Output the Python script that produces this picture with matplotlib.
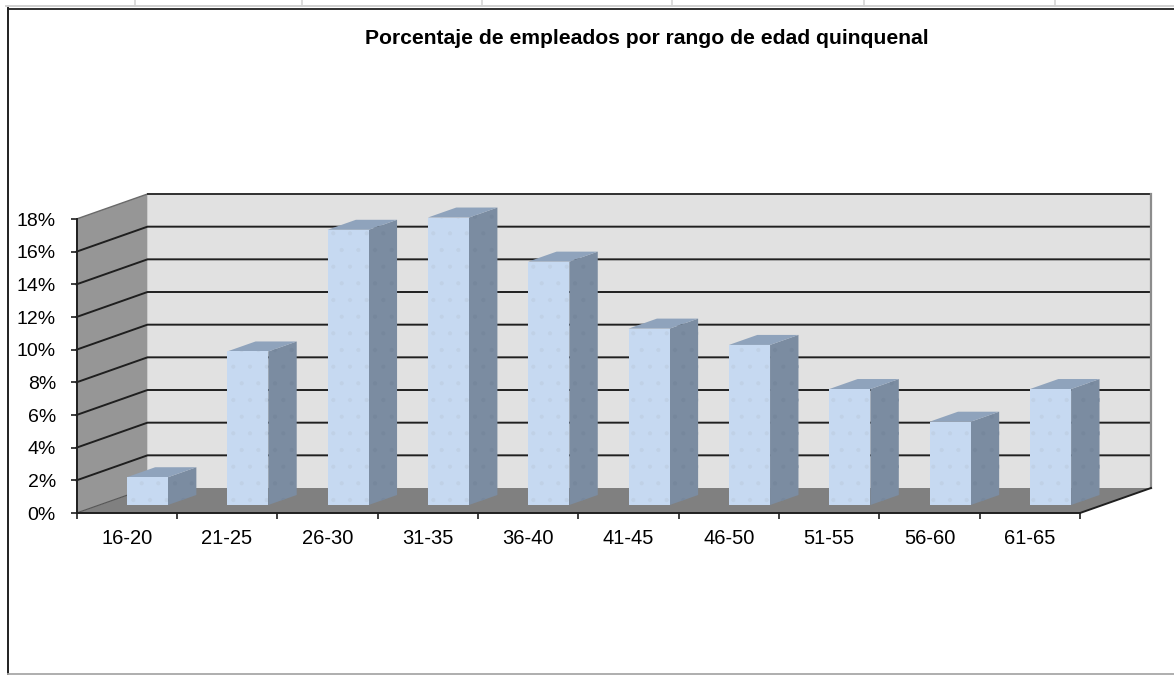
import matplotlib
matplotlib.use("Agg")
import matplotlib.pyplot as plt
from matplotlib.patches import Polygon

W, H = 1174, 675

categories = ["16-20", "21-25", "26-30", "31-35", "36-40", "41-45", "46-50", "51-55", "56-60", "61-65"]
values = [1.7, 9.4, 16.85, 17.6, 14.9, 10.8, 9.8, 7.1, 5.1, 7.1]
yticks = [0, 2, 4, 6, 8, 10, 12, 14, 16, 18]
title = "Porcentaje de empleados por rango de edad quinquenal"

plt.rcParams["font.family"] = ["Liberation Sans", "DejaVu Sans"]
plt.rcParams["hatch.linewidth"] = 0.5

fig = plt.figure(figsize=(W / 100, H / 100), dpi=100)

# chart frame + the sheet cells showing above it
bg = fig.add_axes([0, 0, 1, 1])
bg.set_xlim(0, W)
bg.set_ylim(H, 0)
bg.axis("off")
for x in [135, 302, 482, 672, 864, 1055]:
    bg.plot([x, x], [0, 6], color="#d4d4d4", lw=1.2)
bg.plot([6, W + 5], [5.7, 5.7], color="#d0d0d0", lw=1.4)
bg.plot([8, W + 5], [8.5, 8.5], color="#202020", lw=1.3)
bg.plot([8, 8], [8, H], color="#202020", lw=1.4)
bg.plot([8, W + 5], [H - 1, H - 1], color="#a8a8a8", lw=1.3)
bg.text(647, 39, title, fontsize=15.25, fontweight="bold", ha="center", va="center", color="black")

# axes = front plane of the 3d box
left, right, top, bottom = 76.5, 1080, 219, 513
ax = fig.add_axes([left / W, 1 - bottom / H, (right - left) / W, (bottom - top) / H])
ax.set_xlim(0, len(categories))
ax.set_ylim(0, 18)
ax.patch.set_visible(False)

# depth of the box, in data units
depth_x = 71 / (right - left) * len(categories)
depth_y = 25 / (bottom - top) * 18


def pt(x, y, d=0.0):
    return (x + d * depth_x, y + d * depth_y)


n = len(categories)
ax.add_patch(Polygon([pt(0, 0, 1), pt(n, 0, 1), pt(n, 18, 1), pt(0, 18, 1)], fc="#e1e1e1", ec="none", zorder=1, clip_on=False))
ax.add_patch(Polygon([pt(0, 0), pt(0, 0, 1), pt(0, 18, 1), pt(0, 18)], fc="#969696", ec="none", zorder=1, clip_on=False))
ax.add_patch(Polygon([pt(0, 0), pt(n, 0), pt(n, 0, 1), pt(0, 0, 1)], fc="#808080", ec="none", zorder=1, clip_on=False))

for t in yticks[1:-1]:
    ax.plot(*zip(pt(0, t), pt(0, t, 1), pt(n, t, 1)), color="#1f1f1f", lw=1.4, zorder=2, clip_on=False)
ax.plot(*zip(pt(0, 18), pt(0, 18, 1)), color="#6a6a6a", lw=1.0, zorder=2, clip_on=False)
ax.plot(*zip(pt(0, 18, 1), pt(n, 18, 1)), color="#303030", lw=1.4, zorder=2, clip_on=False)
ax.plot(*zip(pt(0, 0), pt(0, 0, 1)), color="#555555", lw=0.8, zorder=2, clip_on=False)
ax.plot(*zip(pt(n, 0, 1), pt(n, 18, 1)), color="#8c8c8c", lw=1.6, zorder=2, clip_on=False)
ax.plot(*zip(pt(n, 0), pt(n, 0, 1)), color="#1f1f1f", lw=1.4, zorder=2, clip_on=False)

# bars sit between these depths
d0, d1 = 0.32, 0.72
bw = 0.41
for i, v in enumerate(values):
    x0 = i + 0.48 - bw / 2
    x1 = x0 + bw
    front = [pt(x0, 0, d0), pt(x1, 0, d0), pt(x1, v, d0), pt(x0, v, d0)]
    side = [pt(x1, 0, d0), pt(x1, 0, d1), pt(x1, v, d1), pt(x1, v, d0)]
    cap = [pt(x0, v, d0), pt(x1, v, d0), pt(x1, v, d1), pt(x0, v, d1)]
    ax.add_patch(Polygon(side, fc="#7b8ca1", ec="#76879c", hatch=".", lw=0, zorder=3 + i, clip_on=False))
    ax.add_patch(Polygon(cap, fc="#8fa3bc", ec="none", zorder=3 + i, clip_on=False))
    ax.add_patch(Polygon(front, fc="#c6d9f1", ec="#c0d1e6", hatch=".", lw=0, zorder=3 + i, clip_on=False))

for s in ["top", "right"]:
    ax.spines[s].set_visible(False)
for s in ["left", "bottom"]:
    ax.spines[s].set_linewidth(1.4)
    ax.spines[s].set_color("#1f1f1f")
    ax.spines[s].set_zorder(30)

ax.set_yticks(yticks)
ax.set_yticklabels([f"{t}%" for t in yticks], fontsize=14)
ax.set_xticks(range(n + 1))
ax.set_xticklabels([])
ax.tick_params(axis="y", direction="out", length=4.3, width=1.2, pad=10.5, color="#1f1f1f")
ax.tick_params(axis="x", direction="out", length=4.3, width=1.2, color="#1f1f1f")
for i, c in enumerate(categories):
    ax.text(i + 0.5, -1.55, c, fontsize=14.5, ha="center", va="center", color="black")

fig.savefig("out.png", dpi=100)
